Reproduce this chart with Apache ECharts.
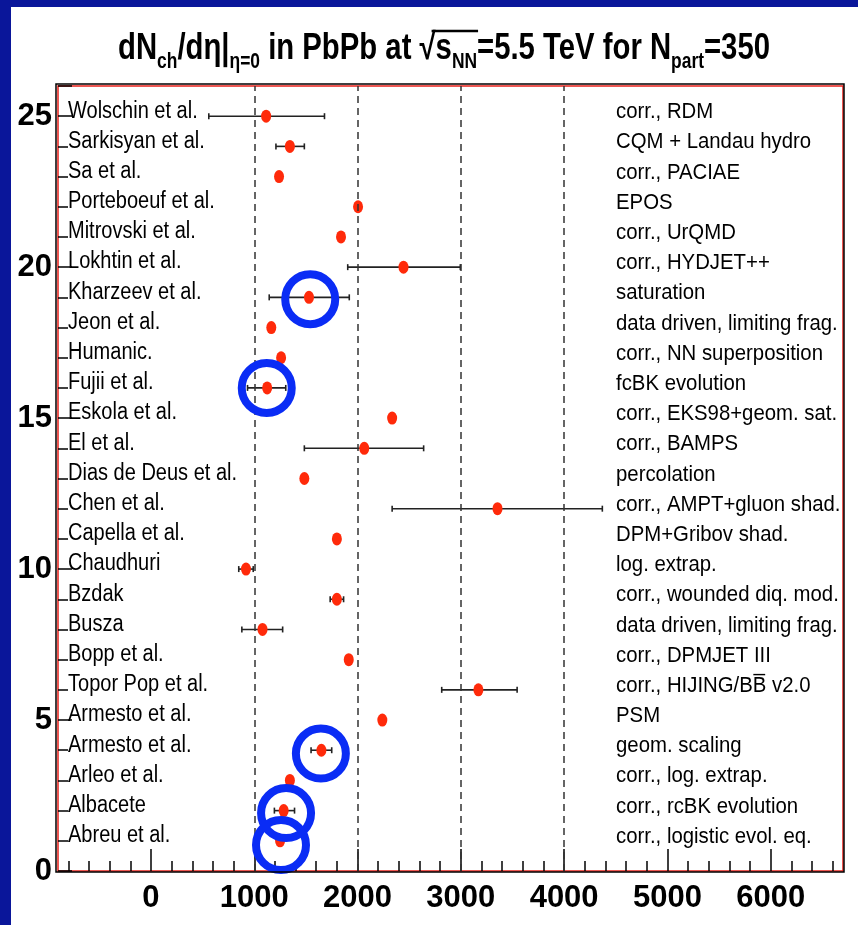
<!DOCTYPE html>
<html><head><meta charset="utf-8">
<script src="https://cdn.jsdelivr.net/npm/echarts@6/dist/echarts.min.js"></script>
<style>html,body{margin:0;padding:0;background:#0a169a;}#c{width:858px;height:925px;}</style>
</head><body><div id="c"></div>
<script>
// ---- data ----
const names = ['Abreu et al.','Albacete','Arleo et al.','Armesto et al.','Armesto et al.','Topor Pop et al.','Bopp et al.','Busza','Bzdak','Chaudhuri','Capella et al.','Chen et al.','Dias de Deus et al.','El et al.','Eskola et al.','Fujii et al.','Humanic.','Jeon et al.','Kharzeev et al.','Lokhtin et al.','Mitrovski et al.','Porteboeuf et al.','Sa et al.','Sarkisyan et al.','Wolschin et al.'];
const models = ['corr., logistic evol. eq.','corr., rcBK evolution','corr., log. extrap.','geom. scaling','PSM','corr., HIJING/BB\u0305 v2.0','corr., DPMJET III','data driven, limiting frag.','corr., wounded diq. mod.','log. extrap.','DPM+Gribov shad.','corr., AMPT+gluon shad.','percolation','corr., BAMPS','corr., EKS98+geom. sat.','fcBK evolution','corr., NN superposition','data driven, limiting frag.','saturation','corr., HYDJET++','corr., UrQMD','EPOS','corr., PACIAE','CQM + Landau hydro','corr., RDM'];
const values = [1250,1285,1345,1650,2240,3170,1915,1080,1800,920,1800,3355,1485,2065,2335,1125,1260,1165,1530,2445,1840,2005,1240,1345,1115];
const errLow  = [null,1195,null,1550,null,2815,null,880,1735,850,null,2335,null,1485,null,935,null,null,1145,1905,null,null,null,1210,560];
const errHigh = [null,1390,null,1750,null,3545,null,1275,1865,990,null,4370,null,2640,null,1305,null,null,1920,2995,null,null,null,1485,1680];
const highlightX = [1542,1121,1645,1308,1259];
const highlightY = [18.94,16.0,3.89,1.92,0.86];
const guideLines = [1000,2000,3000,4000];
const xMajorTicks = [0,1000,2000,3000,4000,5000,6000];
const xMinorTicks = [-800,-600,-400,-200,200,400,600,800,1200,1400,1600,1800,2200,2400,2600,2800,3200,3400,3600,3800,4200,4400,4600,4800,5200,5400,5600,5800,6200,6400,6600];
const titleTokens = [['dN','b'],['ch','s'],['/dη|','b'],['η=0','s'],[' in PbPb at √','b'],['s','b'],['NN','s'],['=5.5 TeV for N','b'],['part','s'],['=350','b']];

// ---- chart ----
const FONT = '"Liberation Sans", Arial, sans-serif';
const T_MAIN = 37, T_SUB = 22, T_LEFT = 118, T_WIDTH = 652, T_Y = 49;
const mctx = document.createElement('canvas').getContext('2d');
function tw(str, size) { mctx.font = 'bold ' + size + 'px ' + FONT; return mctx.measureText(str).width; }
const tokW = titleTokens.map(t => tw(t[0], t[1] === 'b' ? T_MAIN : T_SUB));
const totalW = tokW.reduce((a, b) => a + b, 0);
const tScale = T_WIDTH / totalW;
const upTo = k => tokW.slice(0, k).reduce((a, b) => a + b, 0);
const barX1 = T_LEFT + tScale * (upTo(5) - tw('√', T_MAIN) * 0.25);
const barX2 = T_LEFT + tScale * upTo(7) + 1;
const titleText = titleTokens.map(t => '{' + t[1] + '|' + t[0] + '}').join('');

const chart = echarts.init(document.getElementById('c'), null, {renderer: 'canvas'});
const yPts = values.map((v, i) => [v, i + 1]);
const errData = [];
errLow.forEach((lo, i) => { if (lo !== null) errData.push([lo, errHigh[i], i + 1]); });
const ringData = highlightX.map((x, i) => [x, highlightY[i]]);
const rowData = names.map((n, i) => [i + 1]);

function textRow(list, fromRight, offX, size, scale, dy) {
  return (params, api) => {
    const cs = params.coordSys;
    const y = api.coord([0, api.value(0)])[1] + dy;
    const x = fromRight ? cs.x + cs.width - offX : cs.x + offX;
    return {type: 'text', x: x, y: y, scaleX: scale, scaleY: 1,
      style: {text: list[params.dataIndex], fill: '#000', fontSize: size, fontFamily: FONT,
              align: 'left', verticalAlign: 'middle'}};
  };
}

const option = {
  backgroundColor: '#0a169a',
  animation: false,
  graphic: [
    {type: 'rect', z: -10, silent: true, shape: {x: 11, y: 7, width: 847, height: 918}, style: {fill: '#fff'}},
    {type: 'rect', z: 10, silent: true, shape: {x: 56, y: 84, width: 788, height: 788}, style: {fill: 'none', stroke: '#000', lineWidth: 1.5}},
    {type: 'text', z: 10, silent: true, x: T_LEFT, y: T_Y, scaleX: tScale, scaleY: 1,
     style: {text: titleText, align: 'left', verticalAlign: 'middle',
       rich: {
         b: {fontSize: T_MAIN, fontWeight: 'bold', fontFamily: FONT, fill: '#000', color: '#000'},
         s: {fontSize: T_SUB, fontWeight: 'bold', fontFamily: FONT, fill: '#000', color: '#000', padding: [26, 0, 0, 0]}
       }}},
    {type: 'line', z: 10, silent: true, shape: {x1: barX1, y1: 31, x2: barX2, y2: 31}, style: {stroke: '#000', lineWidth: 2.5}}
  ],
  grid: {left: 58, top: 86, right: 15, bottom: 54, show: true, borderColor: '#e8211a', borderWidth: 1.5,
         backgroundColor: 'transparent', outerBoundsMode: 'none', containLabel: false},
  xAxis: [
    {type: 'value', min: -900, max: 6700, position: 'bottom',
     axisLine: {show: false, onZero: false}, splitLine: {show: false},
     axisTick: {show: true, inside: true, length: 22, customValues: xMajorTicks, lineStyle: {color: '#000', width: 1.5}},
     axisLabel: {show: true, customValues: xMajorTicks, margin: 12, fontSize: 31, fontWeight: 'bold', fontFamily: FONT, color: '#000',
       formatter: v => String(v)}},
    {type: 'value', min: -900, max: 6700, position: 'bottom',
     axisLine: {show: false, onZero: false}, splitLine: {show: false},
     axisTick: {show: true, inside: true, length: 10, customValues: xMinorTicks, lineStyle: {color: '#000', width: 1.5}},
     axisLabel: {show: false}}
  ],
  yAxis: [
    {type: 'value', min: 0, max: 26, interval: 1, position: 'left',
     axisLine: {show: false, onZero: false}, splitLine: {show: false},
     axisTick: {show: true, inside: true, length: 10, lineStyle: {color: '#000', width: 1.5}},
     axisLabel: {show: false}},
    {type: 'value', min: 0, max: 26, interval: 5, position: 'left',
     axisLine: {show: false, onZero: false}, splitLine: {show: false},
     axisTick: {show: true, inside: true, length: 14, lineStyle: {color: '#000', width: 1.5}},
     axisLabel: {show: true, margin: 6, fontSize: 31, fontWeight: 'bold', fontFamily: FONT, color: '#000',
       formatter: v => (v % 5 === 0 ? String(v) : '')}}
  ],
  series: [
    {type: 'scatter', xAxisIndex: 0, yAxisIndex: 0, data: yPts, z: 3,
     symbol: 'circle', symbolSize: [10, 13], itemStyle: {color: '#ff2a0a', opacity: 1},
     markLine: {silent: true, symbol: 'none', label: {show: false},
       lineStyle: {color: '#333', width: 1.5, type: [7, 5]},
       data: guideLines.map(v => ({xAxis: v}))}},
    {type: 'custom', xAxisIndex: 0, yAxisIndex: 0, z: 2, data: errData,
     renderItem: (params, api) => {
       const a = api.coord([api.value(0), api.value(2)]);
       const b = api.coord([api.value(1), api.value(2)]);
       const st = {stroke: '#222', lineWidth: 1.6};
       return {type: 'group', children: [
         {type: 'line', shape: {x1: a[0], y1: a[1], x2: b[0], y2: b[1]}, style: st},
         {type: 'line', shape: {x1: a[0], y1: a[1] - 3, x2: a[0], y2: a[1] + 3}, style: st},
         {type: 'line', shape: {x1: b[0], y1: b[1] - 3, x2: b[0], y2: b[1] + 3}, style: st}
       ]};
     }},
    {type: 'custom', xAxisIndex: 0, yAxisIndex: 0, z: 4, data: rowData, silent: true,
     renderItem: textRow(names, false, 10, 23, 0.87, -5)},
    {type: 'custom', xAxisIndex: 0, yAxisIndex: 0, z: 4, data: rowData, silent: true,
     renderItem: textRow(models, true, 227, 22, 0.925, -4)},
    {type: 'scatter', xAxisIndex: 0, yAxisIndex: 0, data: ringData, z: 5,
     symbol: 'circle', symbolSize: 50,
     itemStyle: {color: 'rgba(0,0,0,0)', borderColor: '#0a2cf5', borderWidth: 8, opacity: 1}}
  ]
};
chart.setOption(option);
</script></body></html>
